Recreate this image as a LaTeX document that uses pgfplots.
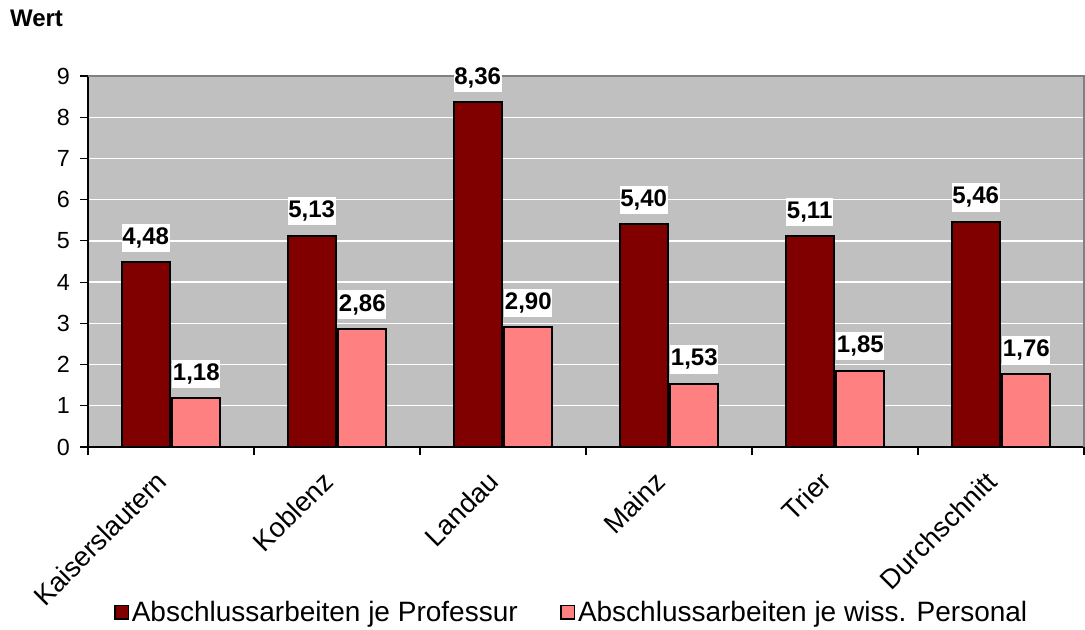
\documentclass[border=0pt]{standalone}
\usepackage{fontspec}
\setmainfont{Liberation Sans}
\usepackage{pgfplots}
\pgfplotsset{compat=1.18}
\definecolor{plotbg}{HTML}{C0C0C0}
\definecolor{darkred}{HTML}{800000}
\definecolor{pinkbar}{HTML}{FF8080}
\begin{document}
\begin{tikzpicture}
\path[use as bounding box] (-66pt,-136.5pt) rectangle (747.75pt,335.25pt);
\begin{axis}[
  at={(0,0)}, anchor=south west,
  scale only axis,
  width=747pt, height=278.25pt,
  ymin=0, ymax=9,
  xmin=-0.5, xmax=5.5,
  ybar, bar width=36pt,
  ytick={0,...,9},
  xtick={0,...,5},
  xticklabels={Kaiserslautern,Koblenz,Landau,Mainz,Trier,Durchschnitt},
  minor xtick={-0.5,0.5,1.5,2.5,3.5,4.5,5.5},
  major x tick style={draw=none},
  minor tick length=6pt,
  major tick length=6pt,
  tick align=outside,
  axis x line*=bottom,
  axis y line*=left,
  axis line style={black, line width=1pt},
  every tick/.style={black, line width=0.8pt},
  ymajorgrids,
  major grid style={white, line width=1pt},
  axis background/.style={fill=plotbg},
  yticklabel style={font=\fontsize{17.5}{20}\selectfont, xshift=-4pt},
  /pgf/number format/assume math mode=true,
  xticklabel style={font=\fontsize{20.5}{23}\selectfont, rotate=45, anchor=north east, xshift=-12.9pt, yshift=4.4pt},
  enlarge x limits=false,
  clip=false,
  nodes near coords,
  nodes near coords style={font=\bfseries\fontsize{18}{20}\selectfont, fill=white, inner xsep=0.5pt, inner ysep=3pt, anchor=south, yshift=7pt,
    /pgf/number format/.cd, use comma, fixed, fixed zerofill, precision=2},
  legend style={at={(0.486,-0.445)}, anchor=center, draw=none, fill=none,
    legend columns=2, font=\fontsize{21}{24}\selectfont,
    /tikz/every even column/.append style={column sep=30pt}},
  legend image code/.code={\draw[#1, line width=1.2pt] (0pt,-5pt) rectangle (10pt,5pt);},
]
\addplot[fill=darkred, draw=black, line width=1.5pt] coordinates {(0,4.48) (1,5.13) (2,8.36) (3,5.40) (4,5.11) (5,5.46)};
\addplot[fill=pinkbar, draw=black, line width=1.5pt] coordinates {(0,1.18) (1,2.86) (2,2.90) (3,1.53) (4,1.85) (5,1.76)};
\legend{Abschlussarbeiten je Professur, Abschlussarbeiten je wiss. Personal}
\draw[gray, line width=1pt] (rel axis cs:0,1) -- (rel axis cs:1,1) -- (rel axis cs:1,0);
\node[anchor=west, font=\bfseries\fontsize{18}{20}\selectfont] at (rel axis cs:0,1) [xshift=-62pt, yshift=43pt] {Wert};
\end{axis}
\end{tikzpicture}
\end{document}
